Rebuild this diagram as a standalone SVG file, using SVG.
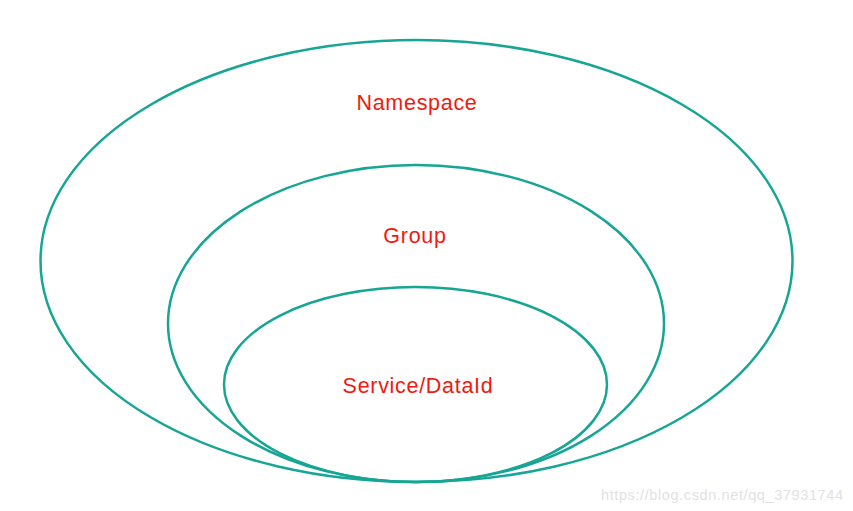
<svg xmlns="http://www.w3.org/2000/svg" width="853" height="511" viewBox="0 0 853 511">
<style>
.ring{fill:none;stroke:#17a594;stroke-width:2.5}
.lbl{font-family:"Liberation Sans",Arial,sans-serif;font-size:21.5px;fill:#f01a10;text-anchor:middle;letter-spacing:0.7px}
.wm{font-family:"Liberation Sans",Arial,sans-serif;font-size:14.5px;fill:#e2e2e2}
</style>
<rect width="853" height="511" fill="#ffffff"/>
<g id="namespace">
<ellipse class="ring" cx="416.5" cy="261" rx="376" ry="221"/>
<text class="lbl" x="417" y="110">Namespace</text>
</g>
<g id="group">
<ellipse class="ring" cx="416" cy="323.5" rx="248" ry="158.5"/>
<text class="lbl" x="415" y="243">Group</text>
</g>
<g id="service">
<ellipse class="ring" cx="415.5" cy="384.5" rx="191.5" ry="97.5"/>
<text class="lbl" x="418" y="393">Service/DataId</text>
</g>
<g id="connectors"></g>
<text class="wm" x="601" y="500" textLength="242">https://blog.csdn.net/qq_37931744</text>
</svg>
